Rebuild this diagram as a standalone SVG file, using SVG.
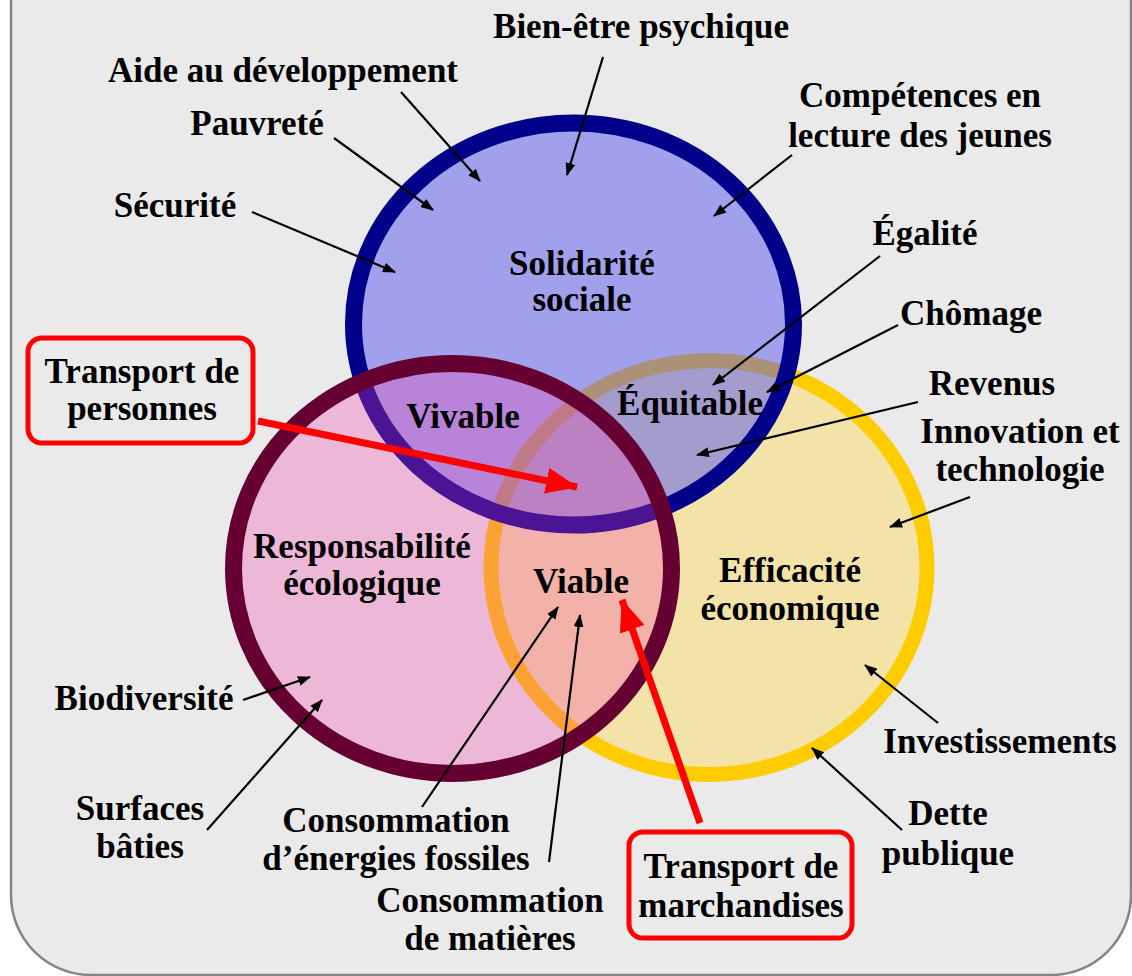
<svg xmlns="http://www.w3.org/2000/svg" width="1132" height="976" viewBox="0 0 1132 976">
<style>
text{font-family:"Liberation Serif","Times New Roman",serif;font-weight:bold;font-size:35px;fill:#000;text-anchor:middle}
.ln{stroke:#000;stroke-width:2.2;fill:none;marker-end:url(#ah)}
.rd{stroke:#FF0000;stroke-width:7;fill:none;marker-end:url(#rh)}
.box{fill:none;stroke:#FF0000;stroke-width:5}
</style>
<defs>
<marker id="ah" viewBox="0 0 13 10" refX="12" refY="5" markerWidth="13" markerHeight="10" markerUnits="userSpaceOnUse" orient="auto"><path d="M0,0L13,5L0,10z" fill="#000"/></marker>
<marker id="rh" viewBox="0 0 32 26" refX="31" refY="13" markerWidth="32" markerHeight="26" markerUnits="userSpaceOnUse" orient="auto"><path d="M0,0L32,13L0,26z" fill="#FF0000"/></marker>
</defs>
<rect x="11" y="-100" width="1120" height="1075" rx="80" fill="#EAEAEA" stroke="#858585" stroke-width="2.5"/>
<g id="eco">
<ellipse cx="709" cy="567.5" rx="218" ry="207" fill="#F3E3A8" stroke="#FFCC00" stroke-width="15"/>
</g>
<g id="soc">
<ellipse cx="573.5" cy="324" rx="220" ry="201" fill="#5555F0" fill-opacity="0.5" stroke="#00008B" stroke-width="17"/>
</g>
<g id="env">
<ellipse cx="452.5" cy="568.5" rx="219" ry="205" fill="#F541AC" fill-opacity="0.3" stroke="#660033" stroke-width="17"/>
</g>
<g id="labels-in">
<text x="582" y="275">Solidarité</text><text x="582" y="311">sociale</text>
<text x="362" y="558">Responsabilité</text><text x="362" y="595">écologique</text>
<text x="790" y="582">Efficacité</text><text x="790" y="620">économique</text>
<text x="463" y="428">Vivable</text>
<text x="690" y="415">Équitable</text>
<text x="581" y="593">Viable</text>
</g>
<g id="connectors">
<line class="ln" x1="603" y1="57" x2="567" y2="175"/>
<line class="ln" x1="401" y1="92" x2="480" y2="181"/>
<line class="ln" x1="334" y1="138" x2="433" y2="210"/>
<line class="ln" x1="252" y1="212" x2="395" y2="272"/>
<line class="ln" x1="792" y1="155" x2="714" y2="216"/>
<line class="ln" x1="880" y1="256" x2="713" y2="385"/>
<line class="ln" x1="898" y1="325" x2="767" y2="392"/>
<line class="ln" x1="918" y1="402" x2="697" y2="455"/>
<line class="ln" x1="970" y1="497" x2="890" y2="527"/>
<line class="ln" x1="938" y1="723" x2="865" y2="665"/>
<line class="ln" x1="902" y1="830" x2="812" y2="748"/>
<line class="ln" x1="243" y1="700" x2="310" y2="677"/>
<line class="ln" x1="207" y1="830" x2="322" y2="700"/>
<line class="ln" x1="422" y1="807" x2="558" y2="607"/>
<line class="ln" x1="549" y1="862" x2="580" y2="615"/>
<line class="rd" x1="258" y1="421" x2="577" y2="487"/>
<line class="rd" x1="700" y1="823" x2="622" y2="600"/>
</g>
<g id="n-bien"><text x="641" y="38">Bien-être psychique</text></g>
<g id="n-aide"><text x="283" y="82">Aide au développement</text></g>
<g id="n-pauv"><text x="257" y="135">Pauvreté</text></g>
<g id="n-secu"><text x="175" y="217">Sécurité</text></g>
<g id="n-comp"><text x="920" y="107">Compétences en</text><text x="920" y="147">lecture des jeunes</text></g>
<g id="n-egal"><text x="925" y="245">Égalité</text></g>
<g id="n-chom"><text x="971" y="325">Chômage</text></g>
<g id="n-rev"><text x="992" y="395">Revenus</text></g>
<g id="n-inno"><text x="1020" y="443">Innovation et</text><text x="1020" y="481">technologie</text></g>
<g id="n-inv"><text x="1000" y="753">Investissements</text></g>
<g id="n-dette"><text x="948" y="825">Dette</text><text x="948" y="865">publique</text></g>
<g id="n-bio"><text x="144" y="710">Biodiversité</text></g>
<g id="n-surf"><text x="140" y="820">Surfaces</text><text x="140" y="858">bâties</text></g>
<g id="n-cef"><text x="396" y="832">Consommation</text><text x="396" y="870">d’énergies fossiles</text></g>
<g id="n-cmat"><text x="490" y="912">Consommation</text><text x="490" y="950">de matières</text></g>
<g id="n-tp"><rect class="box" x="28" y="338" width="225" height="105" rx="14"/><text x="142" y="383">Transport de</text><text x="142" y="420">personnes</text></g>
<g id="n-tm"><rect class="box" x="629" y="832" width="223" height="106" rx="14"/><text x="741" y="878">Transport de</text><text x="741" y="917">marchandises</text></g>
</svg>
